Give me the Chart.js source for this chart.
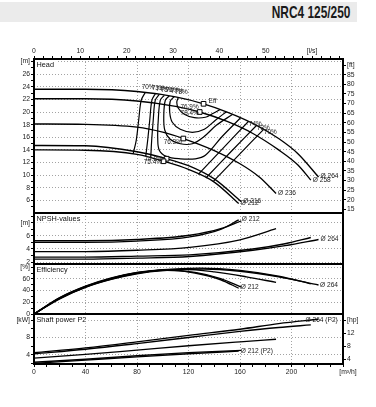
<!DOCTYPE html>
<html><head><meta charset="utf-8">
<script src="https://cdn.jsdelivr.net/npm/chart.js@4.4.1/dist/chart.umd.min.js"></script>
<style>
html,body{margin:0;padding:0;background:#fff;}
body{width:376px;height:407px;position:relative;overflow:hidden;}
#band{position:absolute;left:0;top:2px;width:357px;height:20px;background:#ebebeb;}
#title{position:absolute;right:26px;top:2px;height:20px;line-height:21px;font-family:"Liberation Sans","DejaVu Sans",sans-serif;font-weight:bold;font-size:17px;color:#1a1a1a;transform:scaleX(0.7);transform-origin:right center;white-space:nowrap;}
canvas{position:absolute;left:0;display:block;}
</style></head><body>
<div id="band"></div><div id="title">NRC4 125/250</div>
<canvas id="cHead" width="376" height="195" style="top:28px"></canvas>
<canvas id="cNpsh" width="376" height="71" style="top:203px"></canvas>
<canvas id="cEff" width="376" height="70" style="top:254px"></canvas>
<canvas id="cPow" width="376" height="76" style="top:304px"></canvas>
<script>
// ================= DATA =================
const diameters = ['264','258','236','216','212'];

// Head [m] vs Q [m3/h]
const head264 = [[0,23.6],[40,23.6],[80,23.25],[110,22.4],[131.7,21.3],[150,20.0],[170,18.2],[190,15.8],[205,13.4],[221,9.7]];
const head258 = [[0,22.1],[40,22.1],[80,21.75],[110,20.9],[128.7,20.0],[150,18.5],[170,16.6],[190,14.0],[205,11.6],[215,9.2]];
const head236 = [[0,18.1],[40,18.05],[80,17.6],[100,16.8],[116,15.8],[140,13.9],[160,11.8],[175,9.7],[188,7.1]];
const head216 = [[0,14.7],[40,14.65],[80,13.7],[103,12.6],[120,11.5],[140,9.4],[161,5.8]];
const head212 = [[0,14.0],[40,13.95],[80,13.3],[100.6,12.2],[120,10.9],[140,8.9],[159,5.5]];

// Iso-efficiency lines in the head field
const contour70L = [[86.4,23.1],[83.3,21.87],[81.3,18.7],[79.4,15.52],[77.0,13.38]];
const contour73L = [[94.2,22.9],[91.6,21.87],[89.9,18.7],[88.3,15.52],[86.8,13.0]];
const contour74L = [[97.3,22.8],[94.2,21.87],[92.6,18.7],[91.4,15.52],[90.7,12.85]];
const contour75 = [[101.2,22.65],[98.1,21.87],[96.5,18.7],[96.1,15.84],[97.3,13.94],[102.7,12.98],[113.6,12.59],[125.3,12.59],[133.1,13.14],[146.3,16.16],[160.3,19.05]];
const contour76 = [[105.1,22.55],[102.0,21.87],[100.8,19.49],[101.6,17.11],[105.8,15.68],[113.6,14.97],[123.0,14.97],[131.5,16.0],[141.6,17.9],[154.1,19.6]];
const contour77 = [[108.9,22.43],[105.8,21.71],[105.4,19.97],[107.4,18.38],[113.6,17.27],[123.0,16.79],[132.3,17.27],[140.9,18.7],[149.4,20.05]];
const contour78 = [[112.1,22.3],[110.9,21.56],[112.1,20.6],[116.7,19.65],[124.5,19.1],[133.1,19.17],[139.3,19.81],[144.7,20.4]];
const contour74R = [[166.5,18.5],[147.1,14.33],[127.6,10.13]];
const contour73R = [[172.8,17.86],[153.3,13.78],[133.5,9.54]];
const contour70R = [[178.2,17.22],[158.8,13.14],[139.3,9.0]];
const contourTopLabels = ['70%','73%','74%','75%','76%','77%','78%'];
const contourRightLabels = ['74%','73%','70%'];

// Best efficiency points
const bepQ = [131.7, 128.7, 116, 103, 100.6];
const bepH = [21.3, 20.0, 15.8, 12.6, 12.2];
const bepText = ['76.9%','78.4%','76.3%','74.8%','75.4%'];
const bepMarkText = 'Eff';

// NPSH [m]
const npsh264 = [[0,2.45],[40,2.45],[80,2.6],[121,2.85],[170,3.8],[195,4.5],[221,5.45]];
const npsh258 = [[0,2.75],[40,2.75],[80,2.9],[121,3.1],[170,4.0],[195,4.8],[215,5.75]];
const npsh236 = [[0,3.6],[40,3.6],[80,3.8],[121,4.25],[160,5.4],[188,7.1]];
const npsh216 = [[0,5.25],[40,5.25],[80,5.45],[121,6.1],[145,7.1],[161,8.3]];
const npsh212 = [[0,5.0],[40,5.0],[80,5.2],[121,5.85],[145,7.0],[159,8.45]];

// Efficiency [%]
const eff264 = [[0,0],[20,26],[40,45.5],[60,59],[80,68.5],[100,74],[131.7,76.9],[160,73],[190,63.5],[221,49.5]];
const eff258 = [[0,0],[20,26.5],[40,46],[60,59.5],[80,69.5],[100,75.5],[128.7,78.4],[160,74.5],[190,64.5],[215,51.5]];
const eff236 = [[0,0],[20,27],[40,46.5],[60,60.5],[80,70],[100,75],[116,76.3],[140,72],[165,63.5],[188,54]];
const eff216 = [[0,0],[20,27.5],[40,47],[60,61],[80,70.5],[103,74.8],[125,71],[145,60.5],[161,46]];
const eff212 = [[0,0],[20,28],[40,47.5],[60,61.5],[80,71],[100.6,75.4],[125,70],[145,58.5],[159,44]];

// Shaft power P2 [kW]
const pow264 = [[0,4.5],[40,5.6],[80,7.0],[120,8.5],[160,9.9],[190,11.2],[221,12.2]];
const pow258 = [[0,4.25],[40,5.3],[80,6.6],[120,8.0],[160,9.4],[190,10.3],[215,10.9]];
const pow236 = [[0,3.25],[40,4.1],[80,5.1],[120,6.1],[160,7.0],[188,7.6]];
const pow216 = [[0,2.3],[40,3.0],[80,3.8],[120,4.5],[161,5.05]];
const pow212 = [[0,2.05],[40,2.8],[80,3.55],[120,4.25],[159,4.85]];

// Axes / tick labels
const Q_MAX = 240;
const FT_PER_M = 3.28084, HP_PER_KW = 1.34102, LS_PER_M3H = 1/3.6;
const headRange = [4, 28.4], npshRange = [1.7, 9.5], effRange = [0, 85.4], powRange = [1.9, 13.4];
const qGrid = [0,40,80,120,160,200,240];
const qLabels = [0,40,80,120,160,200];
const qUnitText = '[m\u00b3/h]';
const lsLabels = [0,10,20,30,40,50]; const lsUnitAt = 60; const lsUnitText = '[l/s]';
const headLabels = [6,8,10,12,14,16,18,20,22,24,26]; const headUnitAt = 28;
const ftLabels = [15,20,25,30,35,40,45,50,55,60,65,70,75,80,85]; const ftUnitAt = 90;
const npshLabels = [2,4,6]; const npshUnitAt = 8;
const effLabels = [0,20,40,60]; const effUnitAt = 80;
const powLabels = [4,8]; const powUnitAt = 12;
const hpLabels = [4,8,12]; const hpUnitAt = 16;

// ================= HELPERS =================
const FONT = '"Liberation Sans", Arial, sans-serif';
Chart.defaults.font.family = FONT;
Chart.defaults.font.size = 6.8;
const GRID = '#a3a3a3', DASH = [1,2], TRANSP = 'rgba(0,0,0,0)';
const LW = 1.35;
function steps(a,b,s){const r=[];for(let v=a;v<=b+1e-9;v+=s)r.push(Math.round(v*1000)/1000);return r;}
function zeroPad(s){s.paddingTop=0;s.paddingBottom=0;s.paddingLeft=0;s.paddingRight=0;}
function fixW(w){return s=>{s.width=w;zeroPad(s);};}
function fixH(h){return s=>{s.height=h;zeroPad(s);};}
function setTicks(vals){return s=>{s.ticks=vals.map(v=>({value:v}));};}
function xy(arr){return arr.map(p=>({x:p[0],y:p[1]}));}
function near(a,b){return Math.abs(a-b)<1e-6;}

function leftAxis(range, tickVals, labels, unitAt, unitText){
  return {type:'linear',position:'left',min:range[0],max:range[1],
    afterBuildTicks:setTicks(tickVals),afterFit:fixW(34),
    ticks:{autoSkip:false,padding:1,color:'#222',callback:v=>near(v,unitAt)?unitText:(labels.includes(v)?String(v):'')},
    grid:{color:c=>(c.tick&&(labels.includes(c.tick.value)||near(c.tick.value,unitAt)))?GRID:TRANSP,
          lineWidth:1,tickColor:'#000',tickLength:3},
    border:{display:false,dash:DASH}};
}
function rightAxis(range, factor, labels, unitAt, unitText){
  return {type:'linear',position:'right',min:range[0]*factor,max:range[1]*factor,
    afterBuildTicks:setTicks(labels.concat([unitAt])),afterFit:fixW(33),
    ticks:{autoSkip:false,padding:1,color:'#222',callback:v=>near(v,unitAt)?unitText:String(v)},
    grid:{drawOnChartArea:false,color:'#000',tickColor:'#000',tickLength:3},
    border:{display:false}};
}
function xGridAxis(h){
  return {type:'linear',position:'bottom',min:0,max:Q_MAX,afterBuildTicks:setTicks(qGrid),afterFit:fixH(h),
    ticks:{display:false},grid:{color:GRID,drawTicks:false},border:{display:false,dash:DASH}};
}
function curve(arr, yID){
  return {type:'scatter',showLine:true,data:xy(arr),xAxisID:'x',yAxisID:yID,borderColor:'#000',borderWidth:LW,
    pointRadius:0,fill:false,cubicInterpolationMode:'monotone',order:2};
}
function contour(arr){
  return {type:'scatter',showLine:true,data:xy(arr),xAxisID:'x',yAxisID:'y',borderColor:'#000',borderWidth:1.2,
    pointRadius:0,fill:false,tension:0.35,order:3};
}
function endOf(arr){return arr[arr.length-1];}

function panelPlugin(title, items){
  return {id:'panel',
    afterDatasetsDraw(chart){
      const ctx=chart.ctx;
      items.forEach(it=>{
        const px=chart.scales.x.getPixelForValue(it.x)+(it.dx||0);
        const py=chart.scales[it.ys||'y'].getPixelForValue(it.y)+(it.dy||0);
        ctx.save();
        ctx.font=(it.size||6.6)+'px '+FONT;
        ctx.fillStyle='#222';ctx.textAlign=it.align||'left';ctx.textBaseline='middle';
        ctx.fillText(it.text,px,py);
        ctx.restore();
      });
    },
    afterDraw(chart){
      const a=chart.chartArea, ctx=chart.ctx;
      ctx.save();
      ctx.font='7.3px '+FONT;
      const w=ctx.measureText(title).width;
      ctx.fillStyle='#fff';ctx.fillRect(a.left+1.5,a.top+1.5,w+3,8);
      ctx.fillStyle='#111';ctx.textAlign='left';ctx.textBaseline='middle';
      ctx.fillText(title,a.left+2.5,a.top+5.5);
      ctx.strokeStyle='#000';ctx.lineWidth=2;
      ctx.strokeRect(a.left,a.top,a.right-a.left,a.bottom-a.top);
      if(chart.options.plugins.unitX){
        ctx.font='6.8px '+FONT;ctx.fillStyle='#222';ctx.textAlign='center';
        ctx.fillText(qUnitText,a.right+5,a.bottom+8);
      }
      ctx.restore();
    }};
}
function baseOpts(scales, padding){
  return {responsive:false,animation:false,devicePixelRatio:1,events:[],
    layout:{padding:padding},
    plugins:{legend:{display:false},tooltip:{enabled:false}},
    scales:scales};
}

// ================= HEAD =================
const headSeries=[head264,head258,head236,head216,head212];
const leftContours=[contour70L,contour73L,contour74L,contour75,contour76,contour77,contour78];
const rightContours=[contour74R,contour73R,contour70R];
const headItems=[];
leftContours.forEach((c,i)=>headItems.push({text:contourTopLabels[i],x:c[0][0],y:c[0][1],dx:-3.5,dy:-5.3,size:6.4}));
rightContours.forEach((c,i)=>headItems.push({text:contourRightLabels[i],x:c[0][0],y:c[0][1],dx:0.5,dy:2.5,size:6.4}));
const bepOff=[[-5,3.5],[-1,1.6],[-1.5,3.3],[-4,0.8],[-1.6,1.3]];
bepText.forEach((t,i)=>headItems.push({text:t,x:bepQ[i],y:bepH[i],dx:bepOff[i][0],dy:bepOff[i][1],align:'right',size:6.4}));
headItems.push({text:bepMarkText,x:bepQ[0],y:bepH[0],dx:5,dy:-3,size:6.6});
headSeries.forEach((s,i)=>{const e=endOf(s);headItems.push({text:'\u00d8 '+diameters[i],x:e[0],y:e[1],dx:2,dy:-0.5});});

const headDatasets=[{type:'scatter',data:bepQ.map((q,i)=>({x:q,y:bepH[i]})),xAxisID:'x',yAxisID:'y',
  pointStyle:'rect',pointRadius:3.3,pointBackgroundColor:'#fff',pointBorderColor:'#000',pointBorderWidth:1,showLine:false,order:0}]
  .concat(headSeries.map(s=>curve(s,'y')))
  .concat(leftContours.map(contour)).concat(rightContours.map(contour));

new Chart(document.getElementById('cHead'),{type:'scatter',data:{datasets:headDatasets},
  options:baseOpts({
    x:xGridAxis(0),
    xt:{type:'linear',position:'top',min:0,max:Q_MAX*LS_PER_M3H,afterBuildTicks:setTicks(steps(0,66,2)),afterFit:fixH(31),
      ticks:{autoSkip:false,maxRotation:0,padding:1,color:'#222',callback:v=>near(v,lsUnitAt)?lsUnitText:(lsLabels.includes(v)?String(v):'')},
      grid:{drawOnChartArea:false,color:'#000',tickColor:'#000',tickLength:3},border:{display:false}},
    y:leftAxis(headRange,steps(5,28,1),headLabels,headUnitAt,'[m]'),
    yr:rightAxis(headRange,FT_PER_M,ftLabels,ftUnitAt,'[ft]')
  },{left:0,right:0,top:0,bottom:10}),
  plugins:[panelPlugin('Head',headItems)]});

// ================= NPSH =================
const npshSeries=[npsh264,npsh258,npsh236,npsh216,npsh212];
const npshItems=[
  {text:'\u00d8 '+diameters[4],x:endOf(npsh212)[0],y:endOf(npsh212)[1],dx:3,dy:-0.5},
  {text:'\u00d8 '+diameters[0],x:endOf(npsh264)[0],y:endOf(npsh264)[1],dx:2,dy:-0.5}];
new Chart(document.getElementById('cNpsh'),{type:'scatter',data:{datasets:npshSeries.map(s=>curve(s,'y'))},
  options:baseOpts({x:xGridAxis(0),y:leftAxis(npshRange,steps(2,9,1),npshLabels,npshUnitAt,'[m]')},
    {left:0,right:33,top:10,bottom:10}),
  plugins:[panelPlugin('NPSH-values',npshItems)]});

// ================= EFFICIENCY =================
const effSeries=[eff264,eff258,eff236,eff216,eff212];
const effItems=[
  {text:'\u00d8 '+diameters[4],x:endOf(eff212)[0],y:endOf(eff212)[1],dx:2,dy:-1},
  {text:'\u00d8 '+diameters[0],x:endOf(eff264)[0],y:endOf(eff264)[1],dx:1.5,dy:0}];
new Chart(document.getElementById('cEff'),{type:'scatter',data:{datasets:effSeries.map(s=>curve(s,'y'))},
  options:baseOpts({x:xGridAxis(0),y:leftAxis(effRange,steps(0,80,10),effLabels,effUnitAt,'[%]')},
    {left:0,right:33,top:10,bottom:10}),
  plugins:[panelPlugin('Efficiency',effItems)]});

// ================= POWER =================
const powSeries=[pow264,pow258,pow236,pow216,pow212];
const powItems=[
  {text:'\u00d8 '+diameters[0]+' (P2)',x:endOf(pow264)[0],y:endOf(pow264)[1],dx:-13,dy:0.5},
  {text:'\u00d8 '+diameters[4]+' (P2)',x:endOf(pow212)[0],y:endOf(pow212)[1],dx:2,dy:-0.5}];
const powOpts=baseOpts({
    x:{type:'linear',position:'bottom',min:0,max:Q_MAX,afterBuildTicks:setTicks(steps(0,240,10)),afterFit:fixH(16),
      ticks:{autoSkip:false,maxRotation:0,padding:1,color:'#222',callback:v=>qLabels.includes(v)?String(v):''},
      grid:{color:c=>(c.tick&&qGrid.includes(c.tick.value))?GRID:TRANSP,tickColor:'#000',tickLength:3},
      border:{display:false,dash:DASH}},
    y:leftAxis(powRange,steps(2,12,2),powLabels,powUnitAt,'[kW]'),
    yr:rightAxis(powRange,HP_PER_KW,hpLabels,hpUnitAt,'[hp]')
  },{left:0,right:0,top:10,bottom:0});
powOpts.plugins.unitX=true;
new Chart(document.getElementById('cPow'),{type:'scatter',data:{datasets:powSeries.map(s=>curve(s,'y'))},
  options:powOpts,plugins:[panelPlugin('Shaft power P2',powItems)]});
</script></body></html>
